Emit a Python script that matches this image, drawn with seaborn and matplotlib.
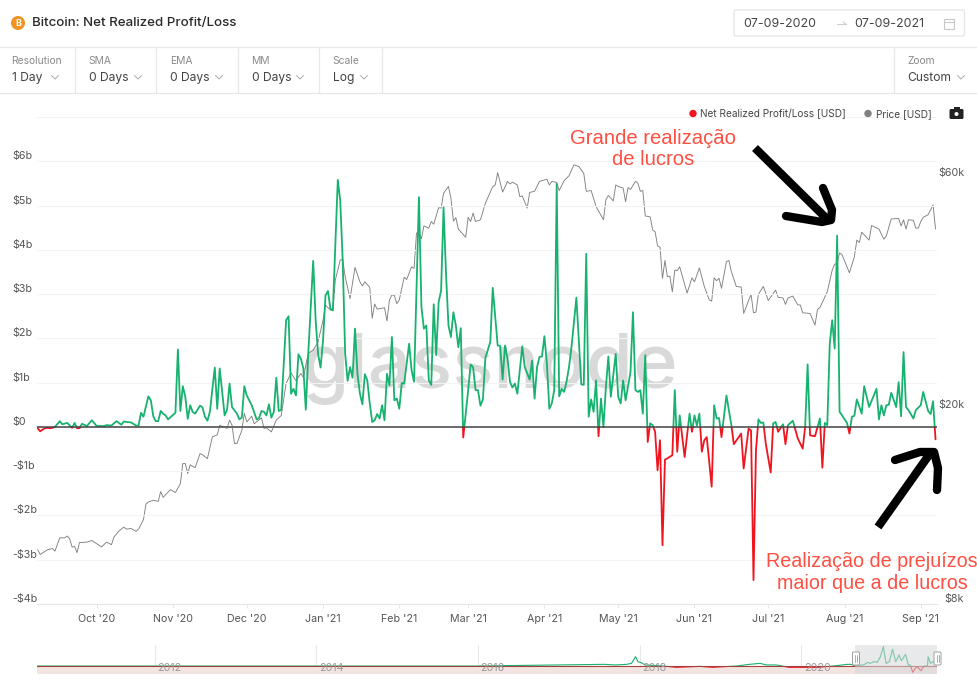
import matplotlib
matplotlib.use("Agg")
import matplotlib.pyplot as plt
from matplotlib.patches import Circle, FancyBboxPatch, Rectangle
import pandas as pd
import seaborn as sns

# day = days since 07-09-2020, values in $b
pnl_days = [
    0, 1, 2, 3, 4, 5, 6, 7, 9, 10,
    12, 14, 15, 16, 17, 18, 20, 22, 24, 27,
    28, 30, 32, 34, 35, 38, 40, 41, 42, 43,
    45, 46, 47, 48, 49, 50, 51, 52, 53, 56,
    57, 58, 59, 60, 61, 62, 63, 64, 66, 67,
    68, 69, 70, 72, 73, 74, 76, 77, 78, 79,
    81, 82, 83, 84, 85, 87, 89, 90, 91, 92,
    93, 94, 95, 96, 97, 98, 99, 101, 102, 103,
    104, 105, 106, 107, 108, 109, 110, 112, 113, 114,
    115, 116, 117, 118, 119, 120, 122, 123, 124, 125,
    126, 127, 128, 129, 130, 131, 132, 133, 134, 135,
    136, 137, 138, 139, 140, 141, 142, 143, 144, 145,
    146, 147, 148, 149, 151, 152, 153, 155, 156, 157,
    158, 159, 160, 161, 162, 163, 164, 165, 166, 167,
    168, 169, 170, 171, 172, 173, 175, 176, 177, 178,
    179, 180, 181, 182, 184, 185, 187, 188, 189, 190,
    191, 192, 193, 194, 195, 197, 198, 200, 201, 202,
    203, 204, 205, 206, 207, 208, 209, 210, 211, 212,
    213, 214, 215, 216, 217, 219, 221, 222, 223, 224,
    225, 226, 227, 228, 229, 230, 231, 232, 233, 235,
    236, 237, 238, 239, 241, 242, 243, 244, 245, 246,
    247, 248, 249, 250, 251, 252, 253, 254, 255, 256,
    258, 259, 260, 261, 263, 265, 266, 267, 268, 269,
    270, 271, 272, 274, 275, 276, 277, 278, 280, 282,
    283, 286, 287, 289, 290, 291, 292, 293, 294, 295,
    296, 298, 299, 300, 301, 303, 304, 305, 307, 309,
    311, 312, 313, 314, 316, 318, 319, 320, 321, 322,
    323, 324, 325, 326, 327, 329, 330, 331, 332, 333,
    335, 336, 338, 341, 342, 343, 344, 345, 346, 347,
    349, 350, 351, 352, 353, 354, 356, 357, 359, 360,
    362, 363, 364, 365,
]
pnl_values = [
    -.03, -.10, -.06, -.03, -.02, -.03, -.02, 0, .13, .06,
    .09, -.02, .09, -.03, -.03, .07, .02, .15, .02, .02,
    .04, .03, .13, .05, .12, .10, .03, .03, .32, .23,
    .69, .60, .24, .13, .13, .36, .30, .26, .17, .32,
    1.75, .36, .92, .68, .18, .49, .34, .30, .48, .44,
    .23, .14, .34, 1.34, .41, 1.32, .26, .39, .98, .45,
    .30, .17, .21, .92, .71, .49, .17, .20, .36, .34,
    .26, .51, .21, .34, 1.11, .36, .38, 2.41, 2.50, .75,
    .86, .71, 1.64, 1.54, 1.32, .39, 1.65, 3.75, 2.41, 1.65,
    1.34, 1.95, 2.97, 3.07, 2.67, 2.63, 5.58, 5.11, 3.76, 1.65,
    1.04, 1.35, 1.11, 2.22, 1.20, .75, .51, 1.19, 1.05, .53,
    .11, .15, .29, .19, .49, .15, 1.20, .94, 2.03, .60,
    .64, .41, .99, .98, 1.88, 1.28, 1.02, 5.19, 2.71, 2.22,
    2.29, 1.05, .95, 2.77, 1.62, 2.82, 3.08, 4.96, 3.46, 2.29,
    2.03, 2.59, 2.29, 1.80, 2.23, -.24, .83, 1.41, 1.35, .83,
    .83, .48, .62, 1.56, 1.92, 3.14, 1.84, 1.83, 1.07, 1.84,
    1.54, 1.02, .89, .98, .75, 1.82, 1.35, 1.07, 1.50, .64,
    1.35, 1.58, 1.59, 2.05, 1.43, .41, .53, .83, 5.49, .69,
    .86, .79, 1.02, 1.35, 1.80, 2.92, .96, .95, 3.91, .23,
    .62, .34, 1.05, -.21, .64, 0, .90, 1.59, .68, 1.65,
    .68, .53, 1.05, .60, 1.24, 2.59, .83, .79, .83, .30,
    1.62, -.34, .08, .04, -.11, -.98, -.30, -2.67, -.74, -.71,
    -.64, .83, -.56, .26, -.68, .30, -.11, .26, .03, .30,
    -.56, -.30, -.23, -1.35, .49, .19, .20, -.23, .71, .04,
    -.39, -.15, -.94, -.04, -.08, -3.46, -.53, .17, .09, .10,
    -.38, -1.03, .08, .11, -.11, .06, -.39, .04, .14, -.26,
    -.49, 0, 1.41, -.19, -.21, .19, -.92, .09, .04, 1.88,
    2.41, 1.77, 4.32, .34, .26, .09, -.15, .23, .25, .62,
    .30, .92, .45, .86, .17, .49, .26, .49, .50, .77,
    .45, 1.01, .24, 1.69, .45, .38, .19, .38, .49, .79,
    .36, .29, .58, -.28,
]

# same day count, price in $k
price_days = [
    0, 1, 4, 6, 7, 9, 11, 12, 13, 14,
    15, 16, 17, 18, 20, 22, 25, 26, 28, 30,
    31, 33, 35, 36, 38, 40, 41, 43, 44, 45,
    47, 49, 50, 51, 54, 56, 58, 59, 60, 61,
    62, 64, 66, 67, 69, 71, 73, 74, 77, 78,
    79, 80, 81, 83, 84, 85, 87, 88, 91, 92,
    93, 95, 97, 99, 101, 103, 105, 107, 108, 110,
    112, 114, 116, 117, 119, 120, 121, 123, 124, 125,
    127, 129, 131, 132, 133, 135, 136, 137, 138, 141,
    142, 143, 144, 145, 146, 147, 149, 150, 152, 153,
    154, 155, 156, 157, 159, 160, 161, 163, 164, 165,
    167, 168, 169, 170, 171, 174, 175, 176, 177, 178,
    180, 182, 185, 186, 187, 189, 191, 192, 193, 195,
    196, 197, 199, 200, 202, 204, 207, 208, 209, 211,
    212, 214, 216, 218, 220, 222, 223, 225, 227, 230,
    231, 232, 234, 235, 236, 238, 239, 240, 241, 243,
    244, 245, 246, 247, 249, 250, 251, 252, 253, 254,
    255, 256, 257, 258, 259, 260, 261, 264, 266, 267,
    269, 271, 273, 274, 275, 276, 277, 278, 280, 281,
    282, 284, 286, 287, 290, 291, 292, 293, 295, 297,
    300, 301, 303, 304, 305, 307, 309, 310, 311, 314,
    316, 317, 318, 321, 323, 324, 325, 326, 327, 330,
    332, 333, 334, 335, 338, 339, 342, 344, 345, 347,
    350, 351, 352, 353, 354, 356, 357, 358, 359, 360,
    362, 364, 365,
]
price_values = [
    10.34, 10.11, 10.34, 10.40, 10.27, 10.94, 10.94, 11.03, 10.89, 10.47,
    10.50, 10.20, 10.70, 10.70, 10.72, 10.80, 10.56, 10.48, 10.72, 10.59,
    10.98, 11.29, 11.51, 11.40, 11.43, 11.28, 11.40, 11.92, 12.82, 12.96,
    13.06, 13.00, 13.61, 13.25, 13.74, 13.55, 14.13, 15.54, 15.54, 14.82,
    15.45, 15.24, 16.29, 16.20, 15.91, 17.63, 17.80, 18.63, 18.34, 19.08,
    18.63, 17.08, 17.08, 18.19, 19.70, 18.92, 19.44, 18.76, 19.28, 18.34,
    18.40, 18.05, 19.10, 19.50, 22.70, 23.86, 22.98, 23.80, 23.35, 26.16,
    26.58, 27.64, 30.60, 32.88, 32.10, 32.10, 37.00, 40.68, 40.80, 37.60,
    33.90, 39.30, 36.70, 36.00, 36.70, 35.76, 30.90, 33.04, 32.26, 32.46,
    30.50, 33.70, 34.50, 34.40, 33.10, 33.70, 37.50, 37.10, 39.40, 39.10,
    46.20, 46.50, 44.96, 47.80, 47.30, 48.80, 48.20, 52.10, 52.00, 55.80,
    57.60, 54.50, 48.90, 49.70, 47.10, 45.30, 49.80, 48.80, 50.80, 48.80,
    49.20, 53.20, 57.60, 58.00, 61.50, 56.10, 59.00, 58.30, 58.80, 58.00,
    54.90, 55.10, 52.00, 56.00, 56.30, 59.00, 59.60, 58.00, 59.00, 58.70,
    56.50, 59.20, 60.60, 63.80, 63.30, 61.30, 56.30, 56.50, 52.40, 49.20,
    54.10, 55.20, 53.80, 58.00, 57.60, 57.20, 53.60, 57.30, 56.80, 59.00,
    58.50, 56.30, 56.50, 50.10, 49.90, 46.90, 46.50, 43.50, 43.20, 37.30,
    40.60, 37.60, 37.70, 35.00, 38.80, 38.70, 39.40, 34.80, 37.40, 36.70,
    39.20, 35.90, 33.70, 33.50, 37.40, 36.90, 37.30, 35.60, 40.40, 40.60,
    38.50, 35.90, 35.80, 31.60, 34.60, 31.70, 31.80, 34.60, 35.90, 33.60,
    35.30, 34.10, 34.00, 33.00, 34.00, 34.30, 32.90, 32.90, 31.70, 31.60,
    29.90, 32.20, 32.50, 35.00, 38.80, 39.90, 40.00, 42.10, 41.70, 38.30,
    41.30, 44.70, 44.20, 46.40, 44.70, 47.90, 47.10, 44.90, 45.60, 49.40,
    49.50, 47.80, 49.20, 47.10, 49.20, 49.10, 47.30, 47.30, 48.80, 49.80,
    50.40, 52.80, 47.10,
]

# overview strip below the chart: year, $b
overview_years = [
    2010.55, 2014.0, 2016.0, 2017.57, 2017.7, 2017.84, 2017.9, 2017.95, 2017.98, 2018.02,
    2018.07, 2018.29, 2018.46, 2018.75, 2018.9, 2019.2, 2019.36, 2019.49, 2019.57, 2019.69,
    2019.85, 2020.2, 2020.4, 2020.57, 2020.61, 2020.69, 2020.78, 2020.82, 2020.85, 2020.9,
    2020.94, 2020.98, 2021.016, 2021.05, 2021.09, 2021.13, 2021.17, 2021.21, 2021.24, 2021.29,
    2021.325, 2021.35, 2021.38, 2021.43, 2021.48, 2021.52, 2021.563, 2021.57, 2021.6, 2021.63,
    2021.67,
]
overview_values = [
    0, 0, 0, .48, .30, .48, .77, 2.7, 1.25, .96,
    .30, 0, -.38, -.10, -.38, 0, .48, .77, .30, .30,
    -.38, -.38, 0, .48, .48, 0, .40, 1.06, .77, 1.25,
    1.06, 2.7, 5.59, .77, 1.25, 4.8, 1.25, 3.2, 1.54, 3.37,
    .30, .30, -1.83, -.10, -1.35, 0, 0, 2.7, .77, 1.25,
    .77,
]

y_ticks = [-4, -3, -2, -1, 0, 1, 2, 3, 4, 5, 6, 7]
y_labels = ["-$4b", "-$3b", "-$2b", "-$1b", "$0", "$1b", "$2b", "$3b", "$4b", "$5b", "$6b", ""]
price_ticks = [8000, 20000, 60000]
price_labels = ["$8k", "$20k", "$60k"]
month_dates = [
    "2020-10-01", "2020-11-01", "2020-12-01", "2021-01-01", "2021-02-01", "2021-03-01",
    "2021-04-01", "2021-05-01", "2021-06-01", "2021-07-01", "2021-08-01", "2021-09-01",
]
month_labels = [
    "Oct '20", "Nov '20", "Dec '20", "Jan '21", "Feb '21", "Mar '21",
    "Apr '21", "May '21", "Jun '21", "Jul '21", "Aug '21", "Sep '21",
]
overview_ticks = [2012, 2014, 2016, 2018, 2020]

GREEN = "#17b26f"
RED = "#f0141e"
W, H = 978, 694

sns.set_style("white")
plt.rcParams["font.family"] = ["Inter", "DejaVu Sans"]

fig = plt.figure(figsize=(W / 100, H / 100), dpi=100)


def px_axes(left, top, right, bottom):
    return fig.add_axes([left / W, (H - bottom) / H, (right - left) / W, (bottom - top) / H])


start = pd.Timestamp("2020-09-07")
pnl = pd.DataFrame({"date": start + pd.to_timedelta(pnl_days, "D"), "value": pnl_values})
price = pd.DataFrame({"date": start + pd.to_timedelta(price_days, "D"), "value": [p * 1000 for p in price_values]})

# main chart
ax = px_axes(36.7, 117, 937, 604)
ax2 = ax.twinx()
ax.set_zorder(ax2.get_zorder() + 1)
ax.patch.set_visible(False)

sns.lineplot(data=price, x="date", y="value", ax=ax2, color="#808080", linewidth=0.65, estimator=None, errorbar=None)
ax2.set_yscale("log")
ax2.set_ylim(8000, 80000)
ax2.minorticks_off()
ax2.set_yticks(price_ticks, labels=price_labels)
ax2.tick_params(axis="y", length=0, pad=19.4, labelsize=7.7, labelcolor="#555555")
for label in ax2.get_yticklabels():
    label.set_ha("right")
    label.set_va("bottom")
ax2.set_ylabel("")
ax2.text(0.5035, 0.4435, "glassnode", transform=ax2.transAxes, ha="center", va="baseline",
         fontsize=55, fontweight="medium", color="#d9d9d9", zorder=0.5)

# same line twice, each copy clipped to its side of zero
sns.lineplot(data=pnl, x="date", y="value", ax=ax, color=GREEN, linewidth=1.3, estimator=None, errorbar=None)
ax.lines[-1].set_clip_path(Rectangle((0, 0), 1, 10, transform=ax.get_yaxis_transform()))
sns.lineplot(data=pnl, x="date", y="value", ax=ax, color=RED, linewidth=1.3, estimator=None, errorbar=None)
ax.lines[-1].set_clip_path(Rectangle((0, -10), 1, 10, transform=ax.get_yaxis_transform()))
ax.axhline(0, color="#444444", linewidth=1.1, zorder=4)

ax.set_xlim(start - pd.Timedelta(days=0.4), start + pd.Timedelta(days=365.6))
ax.set_ylim(-4, 7)
ax.set_yticks(y_ticks, labels=y_labels)
ax.set_xticks(pd.to_datetime(month_dates), labels=month_labels)
ax.set_xlabel("")
ax.set_ylabel("")
ax.grid(axis="y", color="#f3f3f3", linewidth=0.8)
ax.set_axisbelow(True)
ax.tick_params(axis="y", length=0, pad=17.6, labelsize=7.7, labelcolor="#555555")
ax.tick_params(axis="x", length=3, width=0.7, color="#e6e6e6", pad=4.5, labelsize=7.7, labelcolor="#555555", bottom=True)
for label in ax.get_yticklabels():
    label.set_ha("left")
    label.set_va("bottom")
for a in (ax, ax2):
    sns.despine(ax=a, left=True, right=True, top=True)
ax.spines["bottom"].set_color("#e6e6e6")
ax2.spines["bottom"].set_visible(False)

# overview strip
ov = px_axes(36.7, 645, 937, 674)
overview = pd.DataFrame({"year": overview_years, "value": overview_values})
ov.axhspan(-2.3, 0, color="#f3e3e1", lw=0)
sns.lineplot(data=overview, x="year", y="value", ax=ov, color=GREEN, linewidth=0.8, estimator=None, errorbar=None)
ov.lines[-1].set_clip_path(Rectangle((0, 0), 1, 10, transform=ov.get_yaxis_transform()))
sns.lineplot(data=overview, x="year", y="value", ax=ov, color=RED, linewidth=0.8, estimator=None, errorbar=None)
ov.lines[-1].set_clip_path(Rectangle((0, -10), 1, 10, transform=ov.get_yaxis_transform()))
ov.axhline(0, color="#a5413c", linewidth=0.8)
ov.set_xlim(2010.54, 2021.68)
ov.set_ylim(-2.31, 6.07)
ov.set_xticks(overview_ticks)
ov.set_yticks([])
ov.set_xticklabels([])
ov.set_xlabel("")
ov.set_ylabel("")
ov.grid(axis="x", color="#e9e9e9", linewidth=0.8)
ov.set_axisbelow(True)
ov.tick_params(axis="x", length=0)
sns.despine(ax=ov, left=True, right=True, bottom=True)
ov.spines["top"].set_color("#f0f0f0")
for year in overview_ticks:
    ov.text(year + 0.03, -0.55, str(year), fontsize=7.7, color="#9a9a9a", va="center")
ov.axvspan(2020.67, 2021.68, color="#d5d7da", alpha=0.55, lw=0, zorder=5)

# header, controls and annotations, everything in pixel coordinates
ui = px_axes(0, 0, W, H)
ui.set_xlim(0, W)
ui.set_ylim(H, 0)
ui.axis("off")
ui.patch.set_visible(False)
ui.set_zorder(10)

ui.add_patch(Circle((18, 23), 7, color="#f2931f", lw=0))
ui.text(18, 23.3, "B", color="white", fontsize=6.5, fontweight="bold", ha="center", va="center")
ui.text(31.5, 22.5, "Bitcoin: Net Realized Profit/Loss", fontsize=9.6, color="#2a2a2a", va="center", fontweight="medium")

for y in (47, 92.5):
    ui.plot([0, W], [y, y], color="#e8e8e8", linewidth=0.9)
for x in (74.5, 155.5, 237.5, 318.5, 381.5, 893.5):
    ui.plot([x, x], [47, 92.5], color="#e8e8e8", linewidth=0.9)

control_x = [11.5, 88.5, 170, 251, 332.5, 907]
control_names = ["Resolution", "SMA", "EMA", "MM", "Scale", "Zoom"]
control_values = ["1 Day", "0 Days", "0 Days", "0 Days", "Log", "Custom"]
chevron_x = [55, 138, 219, 300, 364, 961]
for x, name, value, cx in zip(control_x, control_names, control_values, chevron_x):
    ui.text(x, 61, name, fontsize=7.4, color="#8a8a8a", va="center")
    ui.text(x + 0.5, 77.5, value, fontsize=8.7, color="#444444", va="center")
    ui.plot([cx - 3.5, cx, cx + 3.5], [75.5, 79, 75.5], color="#aaaaaa", linewidth=0.7)

ui.add_patch(FancyBboxPatch((734, 10), 230.5, 26, boxstyle="round,pad=0,rounding_size=2",
                            facecolor="white", edgecolor="#e4e4e4", linewidth=0.9))
ui.text(743.5, 23.5, "07-09-2020", fontsize=8.9, color="#444444", va="center")
ui.text(854.5, 23.5, "07-09-2021", fontsize=8.9, color="#444444", va="center")
ui.plot([837, 846], [24, 24], color="#cccccc", linewidth=0.8)
ui.plot([843, 846], [22, 24], color="#cccccc", linewidth=0.8)
ui.add_patch(Rectangle((944, 19), 10, 9.5, facecolor="none", edgecolor="#c8c8c8", linewidth=0.8))
ui.plot([944, 954], [21.5, 21.5], color="#c8c8c8", linewidth=0.8)

ui.add_patch(Circle((693, 113.5), 3.7, color="#f0141e", lw=0))
ui.text(700.5, 114, "Net Realized Profit/Loss [USD]", fontsize=7.25, color="#444444", va="center")
ui.add_patch(Circle((868, 113.5), 3.7, color="#808080", lw=0))
ui.text(876, 114, "Price [USD]", fontsize=7.25, color="#444444", va="center")
ui.add_patch(FancyBboxPatch((949.5, 109), 14, 10, boxstyle="round,pad=0,rounding_size=1.5", facecolor="#222222", lw=0))
ui.add_patch(Rectangle((953.5, 107), 6, 3, facecolor="#222222", lw=0))
ui.add_patch(Circle((956.5, 114), 2, facecolor="white", lw=0))

for x in (856, 937.5):
    ui.add_patch(FancyBboxPatch((x - 3.5, 652), 7, 13, boxstyle="round,pad=0,rounding_size=1",
                                facecolor="white", edgecolor="#a0a0a0", linewidth=0.7))
    ui.plot([x - 1, x - 1], [655, 662], color="#a0a0a0", linewidth=0.6)
    ui.plot([x + 1, x + 1], [655, 662], color="#a0a0a0", linewidth=0.6)

ui.text(653, 149, "Grande realização\nde lucros", fontsize=14.6, color="#ff4f42", ha="center", va="center",
        family="Liberation Sans", linespacing=1.18)
ui.text(872, 572.5, "Realização de prejuízos\nmaior que a de lucros", fontsize=14.2, color="#ff4f42", ha="center",
        va="center", family="Liberation Sans", linespacing=1.22)

# hand drawn arrows
ui.plot([755, 828], [148, 220], color="black", linewidth=6, solid_capstyle="butt")
ui.plot([786, 822, 831, 832, 823], [216, 222, 220, 210, 188], color="black", linewidth=6, solid_joinstyle="round")
ui.plot([878, 929], [527, 455], color="black", linewidth=6, solid_capstyle="butt")
ui.plot([895, 920, 934, 938, 937], [460, 452, 452, 468, 490], color="black", linewidth=6, solid_joinstyle="round")

fig.savefig("out.png", dpi=100, facecolor="white")
